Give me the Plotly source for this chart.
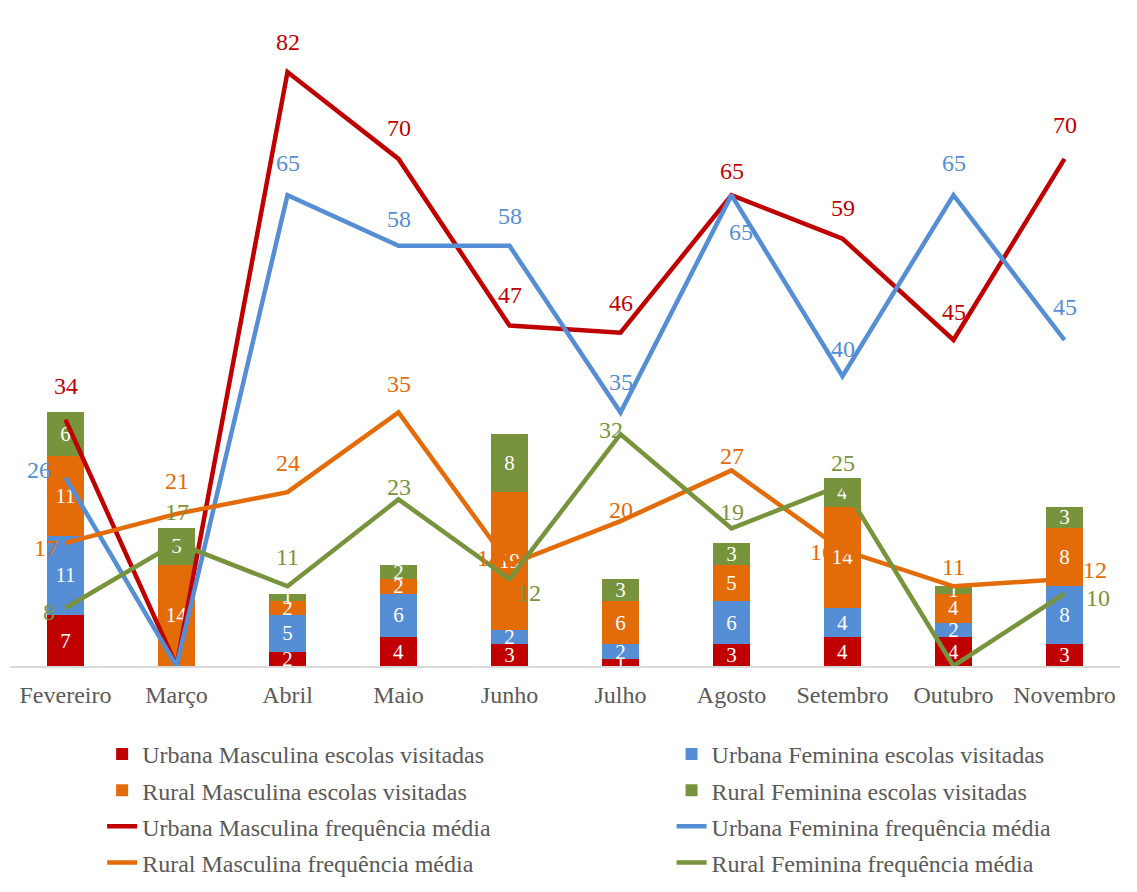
import plotly.graph_objects as go

months = ["Fevereiro", "Março", "Abril", "Maio", "Junho", "Julho",
          "Agosto", "Setembro", "Outubro", "Novembro"]

# escolas visitadas (stacked bars)
um_escolas = [7, 0, 2, 4, 3, 1, 3, 4, 4, 3]
uf_escolas = [11, 0, 5, 6, 2, 2, 6, 4, 2, 8]
rm_escolas = [11, 14, 2, 2, 19, 6, 5, 14, 4, 8]
rf_escolas = [6, 5, 1, 2, 8, 3, 3, 4, 1, 3]

# frequência média (lines)
um_freq = [34, 0, 82, 70, 47, 46, 65, 59, 45, 70]
uf_freq = [26, 0, 65, 58, 58, 35, 65, 40, 65, 45]
rm_freq = [17, 21, 24, 35, 14, 20, 27, 16, 11, 12]
rf_freq = [8, 17, 11, 23, 12, 32, 19, 25, 0, 10]

RED = "#C00000"
BLUE = "#558ED5"
ORANGE = "#E36C09"
GREEN = "#77933C"
FONT = "Times New Roman, Liberation Serif, serif"

fig = go.Figure()

# left legend column: Urbana Masculina / Rural Masculina; right: Urbana Feminina / Rural Feminina
bar_series = [
    ("Urbana Masculina escolas visitadas", um_escolas, RED, "legend"),
    ("Urbana Feminina escolas visitadas", uf_escolas, BLUE, "legend2"),
    ("Rural Masculina escolas visitadas", rm_escolas, ORANGE, "legend"),
    ("Rural Feminina escolas visitadas", rf_escolas, GREEN, "legend2"),
]
for name, vals, col, lg in bar_series:
    fig.add_trace(go.Bar(
        x=months, y=vals, name=name, marker=dict(color=col, line=dict(width=0)),
        text=[str(v) if v else "" for v in vals],
        textposition="inside", insidetextanchor="middle", textangle=0,
        constraintext="none",
        textfont=dict(family=FONT, size=21, color="white"),
        cliponaxis=False, legend=lg, legendgroup=name,
    ))

line_series = [
    ("Urbana Masculina frequência média", um_freq, RED, "legend"),
    ("Urbana Feminina frequência média", uf_freq, BLUE, "legend2"),
    ("Rural Masculina frequência média", rm_freq, ORANGE, "legend"),
    ("Rural Feminina frequência média", rf_freq, GREEN, "legend2"),
]
for name, vals, col, lg in line_series:
    fig.add_trace(go.Scatter(
        x=months, y=vals, name=name, mode="lines",
        line=dict(color=col, width=4.5), cliponaxis=False,
        legend=lg, legendgroup=name,
    ))

# label placement (pixel shifts) per series, per point
shifts = {
    "um": [(0, 34), None, (0, 30), (0, 31), (0, 31), (0, 30), (0, 24), (0, 31), (0, 28), (0, 34)],
    "uf": [(-27, 8), None, (0, 32), (0, 27), (0, 30), (0, 30), (9, -37), (0, 27), (0, 32), (0, 33)],
    "rm": [(-20, -5), (0, 33), (0, 29), (0, 28), (-21, 7), (0, 11), (0, 14), (-21, -2), (0, 19), (30, 9)],
    "rf": [(-17, -4), (0, 31), (0, 29), (0, 12), (19, -14), (-10, 4), (0, 16), (0, 22), None, (33, -4)],
}
annotations = []
for key, vals, col in [("um", um_freq, RED), ("uf", uf_freq, BLUE),
                       ("rm", rm_freq, ORANGE), ("rf", rf_freq, GREEN)]:
    for m, v, s in zip(months, vals, shifts[key]):
        if s is None or v == 0:
            continue
        annotations.append(dict(
            x=m, y=v, xref="x", yref="y", text=str(v), showarrow=False,
            xshift=s[0], yshift=s[1], xanchor="center", yanchor="middle",
            font=dict(family=FONT, size=24, color=col),
        ))

legend_common = dict(
    orientation="v", traceorder="grouped", tracegroupgap=2,
    font=dict(family=FONT, size=24, color="#595959"),
    bgcolor="rgba(0,0,0,0)", yanchor="top", xanchor="left",
)

fig.update_layout(
    width=1137, height=892,
    barmode="stack", bargap=0.67,
    plot_bgcolor="white", paper_bgcolor="white",
    margin=dict(l=10, r=17, t=14, b=226, autoexpand=False),
    annotations=annotations,
    uniformtext=dict(minsize=21, mode="show"),
    showlegend=True,
    legend=dict(x=0.083, y=-0.101, **legend_common),
    legend2=dict(x=0.596, y=-0.101, **legend_common),
    xaxis=dict(
        type="category", showgrid=False, zeroline=False,
        showline=True, linecolor="#D9D9D9", linewidth=1.5,
        ticks="", ticklabelstandoff=6,
        tickfont=dict(family=FONT, size=24, color="#595959"),
    ),
    yaxis=dict(range=[0, 90], visible=False, showgrid=False, zeroline=False),
)

fig.write_html("out.html")
